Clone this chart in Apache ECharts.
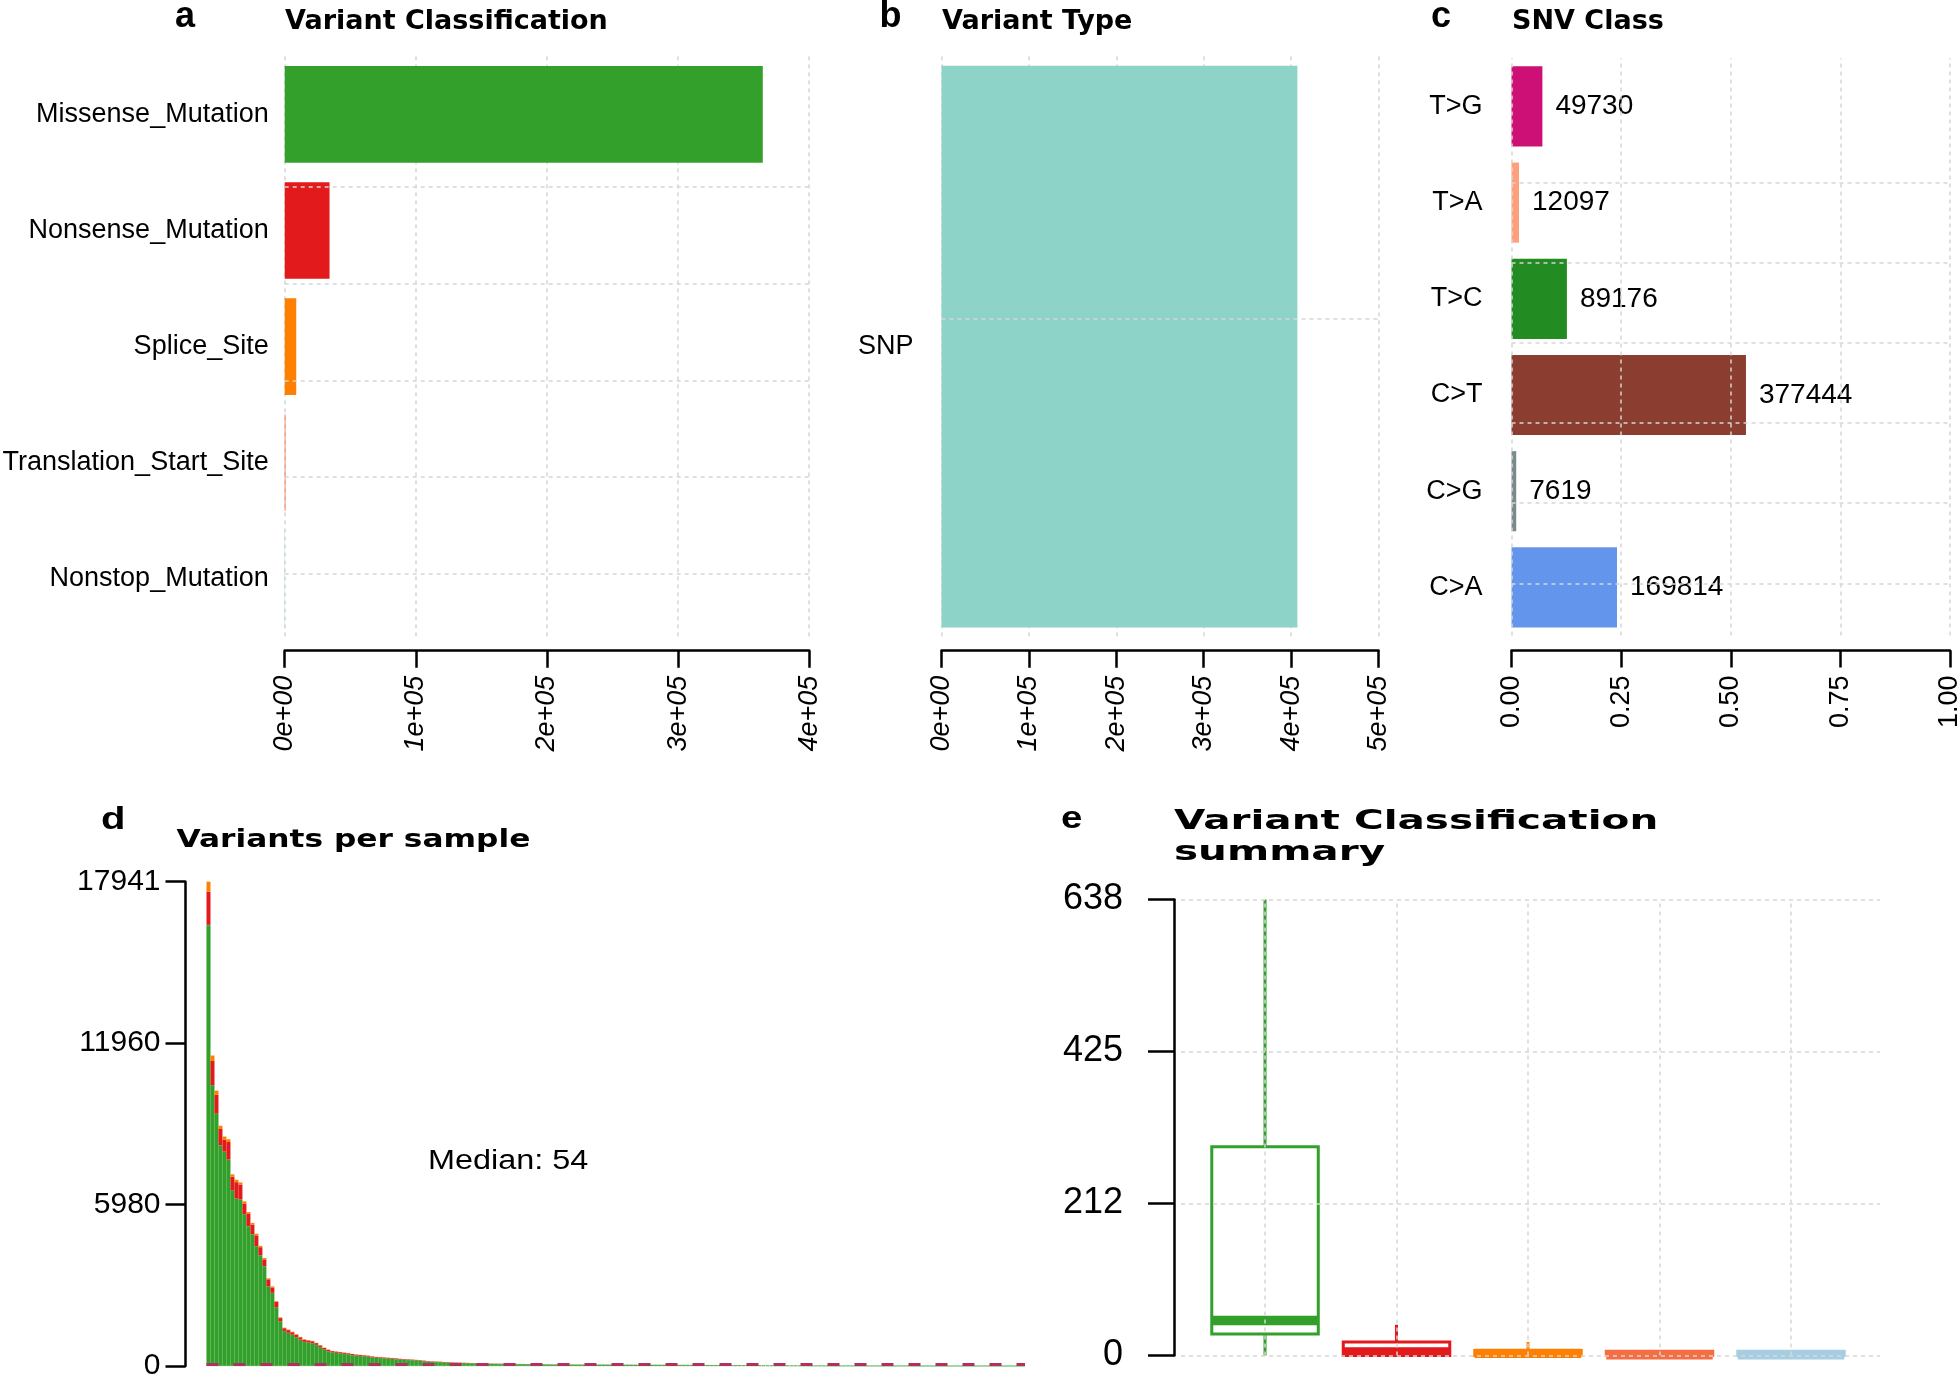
<!DOCTYPE html>
<html><head><meta charset="utf-8">
<script src="https://cdn.jsdelivr.net/npm/echarts@6/dist/echarts.min.js"></script>
<style>html,body{margin:0;padding:0;background:#fff}#c{width:1958px;height:1375px}</style>
</head><body><div id="c"></div>
<script>
// ---------------- data ----------------
const vcCategories = ['Missense_Mutation','Nonsense_Mutation','Splice_Site','Translation_Start_Site','Nonstop_Mutation'];
const vcCounts = [364600, 34200, 8800, 600, 250];
const vcTicks = ['0e+00','1e+05','2e+05','3e+05','4e+05'];

const vtCategories = ['SNP'];
const vtCounts = [407200];
const vtTicks = ['0e+00','1e+05','2e+05','3e+05','4e+05','5e+05'];

const snvCategories = ['T>G','T>A','T>C','C>T','C>G','C>A'];
const snvCounts = [49730, 12097, 89176, 377444, 7619, 169814];
const snvTicks = ['0.00','0.25','0.50','0.75','1.00'];

// variants per sample (sorted), total / nonsense / splice per sample
const sampleTotals = [
17941,11500,10200,8900,8500,8400,7100,6900,6800,6100,
5700,5300,4900,4450,4000,3250,2950,2400,1800,1420,
1350,1270,1180,1080,990,960,930,860,770,680,
610,560,540,520,500,480,450,430,415,400,
385,360,340,330,320,310,300,285,270,260,
250,240,230,220,200,185,175,165,160,150,
145,138,132,126,120,115,110,106,102,98,
95,92,89,86,84,82,80,78,76,74,
72,70,68,66,64,62,61,60,59,58,
57,56,55,55,54,54,54,54,54,54,
54,54,54,53,52,52,51,50,49,49,
48,47,46,45,45,44,43,42,41,40,
40,39,38,37,36,35,34,34,33,32,
31,30,29,28,28,27,26,25,24,23,
22,22,21,20,19,18,17,17,16,15,
14,13,13,12,11,10,10,9,9,8,
8,7,7,6,6,6,5,5,5,4,
4,4,4,3,3,3,3,3,2,2,
2,2,2,2,2,1,1,1,1,1,
1,1,1,1,1,1,1,1,1,1,
1,1,1,1,1];
const sampleNonsense = [
1230,900,700,600,450,650,500,600,550,400,
450,350,400,300,250,250,200,200,120,100,
100,90,90,80,80,75,70,65,60,55,
50,45,42,40,40,38,36,34,33,32,
30,29,27,26,25,25,24,23,22,21,
20,19,18,18,16,15,14,13,13,12,
12,11,11,10,10,9,9,8,8,8,
8,7,7,7,7,7,6,6,6,6,
6,6,5,5,5,5,5,5,5,5,
5,4,4,4,4,4,4,4,4,4,
4,4,4,4,4,4,4,4,4,4,
4,4,4,4,4,4,3,3,3,3,
3,3,3,3,3,3,3,3,3,3,
2,2,2,2,2,2,2,2,2,2,
2,2,2,2,2,1,1,1,1,1,
1,1,1,1,1,1,1,1,1,1,
1,1,1];
const sampleSplice = [
370,200,150,120,110,100,90,90,80,80,
70,60,60,50,50,40,40,30,25,20,
20,18,17,16,15,14,13,12,11,10,
9,9,8,8,8,7,7,7,6,6,
6,6,5,5,5,5,5,4,4,4,
4,4,4,4,3,3,3,3,3,3,
3,3,2,2,2,2,2,2,2,2,
2,2,2,2,2,1,1,1,1,1,
1,1,1,1,1,1,1,1,1,1];
const perSampleMax = 17941;
const perSampleTicks = ['0','5980','11960','17941'];
const perSampleMedian = 54;

// variant classification summary (box stats per class)
const summaryClasses = ['Missense_Mutation','Nonsense_Mutation','Splice_Site','Translation_Start_Site','Nonstop_Mutation'];
const summaryMin    = [0, 0, 0, 0, 0];
const summaryQ1     = [30, 0, 0, 0, 0];
const summaryMedian = [49, 5, 3, 1, 1];
const summaryQ3     = [292, 19, 7, 6, 6];
const summaryMax    = [638, 43, 19, 6, 6];
const summaryAxisMax = 638;
const summaryTicks = ['0','212','425','638'];

// ---------------- styles ----------------
const vcColors = ['#33A02C','#E31A1C','#FF7F00','#F46D43','#A6CEE3'];
const snvColors = ['#CD1076','#FFA07A','#228B22','#8B3E2F','#7A8B8B','#6495ED'];
const vtColor = '#8DD3C7';
const FONT = '"Liberation Sans", Arial, sans-serif';
const TFONT = '"DejaVu Sans", sans-serif';
const gridLine = {type:[4,4], color:'#d6d6d6', width:1.5};
const axisBlack = {color:'#000', width:2.5};

const snvTotal = snvCounts.reduce((a,b)=>a+b,0);
const sampleIdx = sampleTotals.map((_, i) => i);
const nonsenseVals = sampleTotals.map((_, i) => sampleNonsense[i] || 0);
const spliceVals = sampleTotals.map((_, i) => sampleSplice[i] || 0);
const missenseVals = sampleTotals.map((t, i) => t - nonsenseVals[i] - spliceVals[i]);

function hGrid(n){ const a=[]; for(let k=0;k<n;k++) a.push({yAxis:0.75+k}); return a; }
function mline(data, style){
  return {silent:true, symbol:['none','none'], label:{show:false}, lineStyle:style, data:data, animation:false};
}
function catAxis(grid, data, margin, inverse){
  return {type:'category', gridIndex:grid, data:data, inverse:inverse, position:'left',
    axisLine:{show:false}, axisTick:{show:false},
    axisLabel:{color:'#000', fontSize:27, fontFamily:FONT, margin:margin}};
}
function hiddenVal(grid, min, max){
  return {type:'value', gridIndex:grid, min:min, max:max, show:false, position:'right'};
}
function barXAxis(grid, max, interval, ticks, offset, italic, split){
  return {type:'value', gridIndex:grid, min:0, max:max, interval:interval, offset:offset,
    axisLine:{show:true, onZero:false, lineStyle:axisBlack}, axisTick:{show:true, length:17, lineStyle:axisBlack},
    axisLabel:{rotate:90, margin:25, fontSize:27, fontFamily:FONT, color:'#000', fontStyle: italic?'italic':'normal',
      formatter:(v)=>ticks[Math.round(v/interval)]},
    splitLine:{show:split, lineStyle:gridLine}};
}

const texts = [
  {t:'a', x:175, b:29.5, f:'bold 36px '+FONT, s:1},
  {t:'Variant Classification', x:285, b:31, f:'bold 27px '+TFONT, s:1},
  {t:'b', x:879.5, b:30, f:'bold 36px '+FONT, s:1},
  {t:'Variant Type', x:942, b:31, f:'bold 27px '+TFONT, s:1},
  {t:'c', x:1431, b:30, f:'bold 36px '+FONT, s:1},
  {t:'SNV Class', x:1512, b:31, f:'bold 27px '+TFONT, s:1},
  {t:'d', x:101, b:831, f:'bold 32px '+FONT, s:1.25},
  {t:'Variants per sample', x:176.5, b:849, f:'bold 25px '+TFONT, s:1.25},
  {t:'Median: ' + perSampleMedian, x:428, b:1171, f:'27px '+FONT, s:1.2},
  {t:'e', x:1061, b:830, f:'bold 32px '+FONT, s:1.2},
  {t:'Variant Classification', x:1174, b:831, f:'bold 27px '+TFONT, s:1.5},
  {t:'summary', x:1174, b:862, f:'bold 27px '+TFONT, s:1.5}
];
function fsize(f){ return parseFloat(f.match(/(\d+(\.\d+)?)px/)[1]); }
const graphics = texts.map(o => ({type:'text', x:o.x, y:o.b - 0.35*fsize(o.f), scaleX:o.s,
  style:{text:o.t, font:o.f, fill:'#000', align:'left', verticalAlign:'middle', textAlign:'left', textVerticalAlign:'middle'}}));

const summaryData = summaryClasses.map((c, i) => [i, summaryMin[i], summaryQ1[i], summaryMedian[i], summaryQ3[i], summaryMax[i]]);

function stackBar(vals, col, bw){
  return {type:'bar', xAxisIndex:3, yAxisIndex:6, stack:'d', barCategoryGap:'0%', data:vals,
    itemStyle:{color:col, borderColor:col, borderWidth:bw}};
}

const option = {
  animation:false,
  backgroundColor:'#fff',
  textStyle:{fontFamily:FONT},
  graphic:graphics,
  grid:[
    {left:284.7, top:56.4, width:524.5, height:580.3, containLabel:false, outerBoundsMode:'none'},
    {left:941.5, top:56.4, width:437, height:580.3, containLabel:false, outerBoundsMode:'none'},
    {left:1511.5, top:58.3, width:438.5, height:577.2, containLabel:false, outerBoundsMode:'none'},
    {left:206.5, top:881.7, width:818.5, height:484.3, containLabel:false, outerBoundsMode:'none'},
    {left:1181, top:899.5, width:699, height:456, containLabel:false, outerBoundsMode:'none'}
  ],
  xAxis:[
    barXAxis(0, 400000, 100000, vcTicks, 14, true, true),
    barXAxis(1, 500000, 100000, vtTicks, 14, true, true),
    barXAxis(2, 1, 0.25, snvTicks, 15, false, false),
    {type:'category', gridIndex:3, data:sampleIdx, show:false},
    {type:'value', gridIndex:4, min:-0.639, max:4.677, show:false}
  ],
  yAxis:[
    catAxis(0, vcCategories, 16, true),
    hiddenVal(0, 0.1, 6.1),
    catAxis(1, vtCategories, 28, false),
    hiddenVal(1, 0.1847, 1.2153),
    catAxis(2, snvCategories, 29, true),
    hiddenVal(2, 0.1, 7.3),
    {type:'value', gridIndex:3, min:0, max:perSampleMax, interval:perSampleMax/3, offset:21, position:'left',
      axisLine:{show:true, onZero:false, lineStyle:axisBlack}, axisTick:{show:true, length:20, lineStyle:axisBlack},
      axisLabel:{fontSize:30, fontFamily:FONT, color:'#000', margin:25,
        formatter:(v)=>perSampleTicks[Math.round(v/(perSampleMax/3))]},
      splitLine:{show:false}},
    {type:'value', gridIndex:4, min:0, max:summaryAxisMax, interval:summaryAxisMax/3, offset:7, position:'left',
      axisLine:{show:true, onZero:false, lineStyle:axisBlack}, axisTick:{show:true, length:26, lineStyle:axisBlack},
      axisLabel:{fontSize:36, fontFamily:FONT, color:'#000', margin:51,
        formatter:(v)=>summaryTicks[Math.round(v/(summaryAxisMax/3))]},
      splitLine:{show:false}}
  ],
  series:[
    // a
    {type:'line', xAxisIndex:0, yAxisIndex:1, data:[], symbol:'none', z:1,
      markLine:mline(hGrid(vcCategories.length), gridLine)},
    {type:'bar', xAxisIndex:0, yAxisIndex:0, z:2, barCategoryGap:'16.67%',
      data:vcCounts.map((v,i)=>({value:v, itemStyle:{color:vcColors[i]}}))},
    // b
    {type:'line', xAxisIndex:1, yAxisIndex:3, data:[], symbol:'none', z:1,
      markLine:mline(hGrid(vtCategories.length), gridLine)},
    {type:'bar', xAxisIndex:1, yAxisIndex:2, z:2, barWidth:'96.8%',
      data:vtCounts.map(v=>({value:v, itemStyle:{color:vtColor}}))},
    // c
    {type:'bar', xAxisIndex:2, yAxisIndex:4, z:2, barCategoryGap:'16.67%',
      data:snvCounts.map((v,i)=>({value:v/snvTotal, itemStyle:{color:snvColors[i]}})),
      label:{show:true, position:'right', distance:13, fontSize:28, fontFamily:FONT, color:'#000',
        formatter:(p)=>String(snvCounts[p.dataIndex])}},
    {type:'line', xAxisIndex:2, yAxisIndex:5, data:[], symbol:'none', z:10,
      markLine:mline(hGrid(snvCategories.length).concat(snvTicks.map((t,k)=>({xAxis:k*0.25}))), gridLine)},
    // d
    stackBar(missenseVals, vcColors[0], 0.5),
    stackBar(nonsenseVals, vcColors[1], 0),
    stackBar(spliceVals, vcColors[2], 0),
    {type:'line', xAxisIndex:3, yAxisIndex:6, data:[], symbol:'none', z:10,
      markLine:mline([{yAxis:perSampleMedian}], {color:'#B03060', width:3, type:[12,15]})},
    // e
    {type:'line', xAxisIndex:4, yAxisIndex:7, data:[], symbol:'none', z:1,
      markLine:mline(summaryClasses.map((c,i)=>({xAxis:i})), gridLine)},
    {type:'custom', xAxisIndex:4, yAxisIndex:7, z:2, data:summaryData,
      encode:{x:0, y:[1,2,3,4,5]},
      renderItem:function(params, api){
        const i = api.value(0);
        const cx = api.coord([i, 0])[0];
        const yMin = api.coord([i, api.value(1)])[1];
        const yQ1 = api.coord([i, api.value(2)])[1];
        const yMed = api.coord([i, api.value(3)])[1];
        const yQ3 = api.coord([i, api.value(4)])[1];
        const yMax = api.coord([i, api.value(5)])[1];
        const hw = api.size([1, 0])[0] * 0.405;
        const col = vcColors[params.dataIndex];
        const ls = {stroke:col, lineWidth:3, fill:null};
        return {type:'group', children:[
          {type:'line', shape:{x1:cx, y1:yMax, x2:cx, y2:yQ3}, style:ls},
          {type:'line', shape:{x1:cx, y1:yQ1, x2:cx, y2:yMin}, style:ls},
          {type:'rect', shape:{x:cx-hw, y:yQ3, width:2*hw, height:Math.max(yQ1-yQ3,0.5)}, style:{stroke:col, lineWidth:3, fill:'rgba(255,255,255,0)'}},
          {type:'rect', shape:{x:cx-hw, y:yMed-4.65, width:2*hw, height:9.3}, style:{fill:col}}
        ]};
      }},
    {type:'line', xAxisIndex:4, yAxisIndex:7, data:[], symbol:'none', z:10,
      markLine:mline([0,1,2,3].map(k=>({yAxis:k*summaryAxisMax/3})), gridLine)}
  ]
};
const chart = echarts.init(document.getElementById('c'), null, {renderer:'canvas'});
chart.setOption(option);
</script></body></html>
